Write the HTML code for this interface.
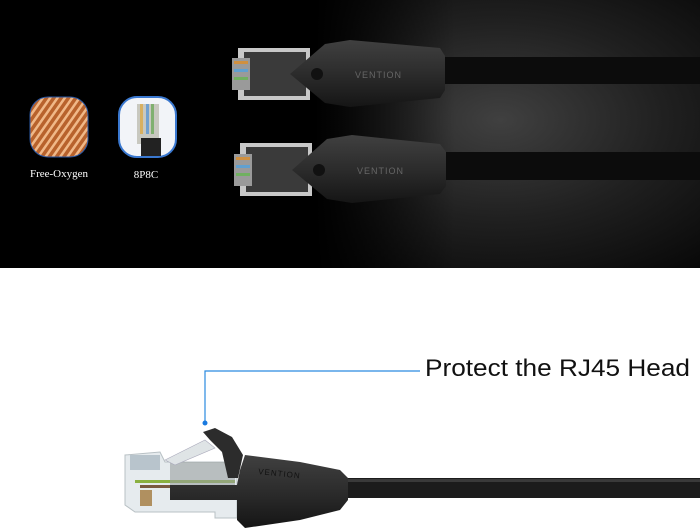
<!DOCTYPE html>
<html><head><meta charset="utf-8"><style>
html,body{margin:0;padding:0;background:#fff;width:700px;height:532px;overflow:hidden}
</style></head><body>
<svg width="700" height="532" viewBox="0 0 700 532" xmlns="http://www.w3.org/2000/svg">
<defs>
<radialGradient id="glow" cx="500" cy="120" r="330" gradientUnits="userSpaceOnUse" gradientTransform="translate(500 120) scale(1 0.6) translate(-500 -120)">
<stop offset="0" stop-color="#404040"/><stop offset="0.5" stop-color="#202020"/><stop offset="1" stop-color="#060606"/>
</radialGradient>
<linearGradient id="fade" x1="0" x2="1"><stop offset="0" stop-color="#000"/><stop offset="0.45" stop-color="#000" stop-opacity="1"/><stop offset="0.65" stop-color="#000" stop-opacity="0"/></linearGradient>
<pattern id="stripes" width="6" height="6" patternUnits="userSpaceOnUse" patternTransform="rotate(35)">
<rect width="6" height="6" fill="#b8622c"/><rect width="2.5" height="6" fill="#f0b888"/></pattern>
<linearGradient id="boot" x1="0" y1="0" x2="0" y2="1"><stop offset="0" stop-color="#404040"/><stop offset="0.5" stop-color="#2c2c2c"/><stop offset="1" stop-color="#151515"/></linearGradient>
</defs>
<rect x="0" y="0" width="700" height="268" fill="url(#glow)"/>
<rect x="0" y="0" width="700" height="268" fill="url(#fade)"/>
<rect x="30" y="97" width="58" height="60" rx="18" fill="url(#stripes)" stroke="#2a5aa8" stroke-width="1"/>
<rect x="119" y="97" width="57" height="60" rx="18" fill="#f2f4f8" stroke="#3a78d0" stroke-width="2"/>
<rect x="137" y="104" width="22" height="40" fill="#c8c8c0"/>
<rect x="140" y="104" width="3" height="30" fill="#d8b060"/><rect x="146" y="104" width="3" height="30" fill="#70a0d0"/><rect x="151" y="104" width="3" height="30" fill="#80b070"/>
<rect x="141" y="138" width="20" height="18" fill="#222"/>
<text x="59" y="177" font-family="Liberation Serif, serif" font-size="11" fill="#fff" text-anchor="middle">Free-Oxygen</text>
<text x="146" y="178" font-family="Liberation Serif, serif" font-size="11" fill="#fff" text-anchor="middle">8P8C</text>
<g>
<rect x="440" y="57" width="260" height="27" fill="#0c0c0c"/>
<rect x="238" y="48" width="72" height="52" fill="#c8c8c8"/>
<rect x="244" y="52" width="62" height="44" fill="#3a3a3a"/>
<rect x="232" y="58" width="18" height="32" fill="#9a9a9a"/>
<rect x="234" y="61" width="14" height="3" fill="#d09040"/><rect x="234" y="69" width="14" height="3" fill="#60a0d0"/><rect x="234" y="77" width="14" height="3" fill="#70b060"/>
<path d="M290 74 L325 44 L350 40 L440 48 L445 56 L445 90 L440 98 L350 107 L325 103 Z" fill="url(#boot)"/>
<circle cx="317" cy="74" r="6" fill="#111"/>
<text x="355" y="78" font-family="Liberation Sans, sans-serif" font-size="9" fill="#666" letter-spacing="1">VENTION</text>
</g>
<g>
<rect x="440" y="152" width="260" height="28" fill="#0c0c0c"/>
<rect x="240" y="143" width="72" height="53" fill="#c8c8c8"/>
<rect x="246" y="147" width="62" height="45" fill="#3a3a3a"/>
<rect x="234" y="154" width="18" height="32" fill="#9a9a9a"/>
<rect x="236" y="157" width="14" height="3" fill="#d09040"/><rect x="236" y="165" width="14" height="3" fill="#60a0d0"/><rect x="236" y="173" width="14" height="3" fill="#70b060"/>
<path d="M292 170 L327 139 L352 135 L440 144 L446 152 L446 186 L440 194 L352 203 L327 199 Z" fill="url(#boot)"/>
<circle cx="319" cy="170" r="6" fill="#111"/>
<text x="357" y="174" font-family="Liberation Sans, sans-serif" font-size="9" fill="#666" letter-spacing="1">VENTION</text>
</g>
<polyline points="420,371 205,371 205,423" fill="none" stroke="#2a8ae0" stroke-width="1.2"/>
<circle cx="205" cy="423" r="2.5" fill="#1a7ae0"/>
<text x="425" y="376" font-family="Liberation Sans, sans-serif" font-size="24" fill="#111" textLength="265" lengthAdjust="spacingAndGlyphs">Protect the RJ45 Head</text>
<rect x="345" y="478" width="355" height="20" fill="#1c1c1c"/>
<rect x="345" y="479" width="355" height="3" fill="#3a3a3a"/>
<path d="M125 455 L160 452 L165 462 L237 462 L237 518 L215 518 L215 512 L135 512 L125 505 Z" fill="#e6ebee" stroke="#b8c0c4" stroke-width="1"/>
<rect x="130" y="455" width="30" height="15" fill="#b8c4cc"/>
<rect x="135" y="480" width="100" height="3" fill="#8ab040"/>
<rect x="140" y="485" width="100" height="3" fill="#7a5a40"/>
<rect x="140" y="490" width="12" height="16" fill="#b09060"/>
<rect x="170" y="462" width="65" height="32" fill="#9aa0a0" opacity="0.6"/>
<path d="M165 460 L205 440 L215 448 L175 465 Z" fill="#dfe4e6" stroke="#aab" stroke-width="0.6"/>
<path d="M203 432 L215 428 L232 437 L243 455 L238 478 L228 478 L222 452 L210 440 Z" fill="#2c2c2c"/>
<path d="M170 485 L237 485 L240 470 L245 455 L300 462 L340 470 L348 478 L348 500 L340 510 L300 520 L245 528 L237 520 L237 500 L170 500 Z" fill="url(#boot)"/>
<text x="258" y="474" font-family="Liberation Sans, sans-serif" font-size="8" fill="#111" letter-spacing="1" transform="rotate(6 258 474)">VENTION</text>
</svg>
</body></html>
